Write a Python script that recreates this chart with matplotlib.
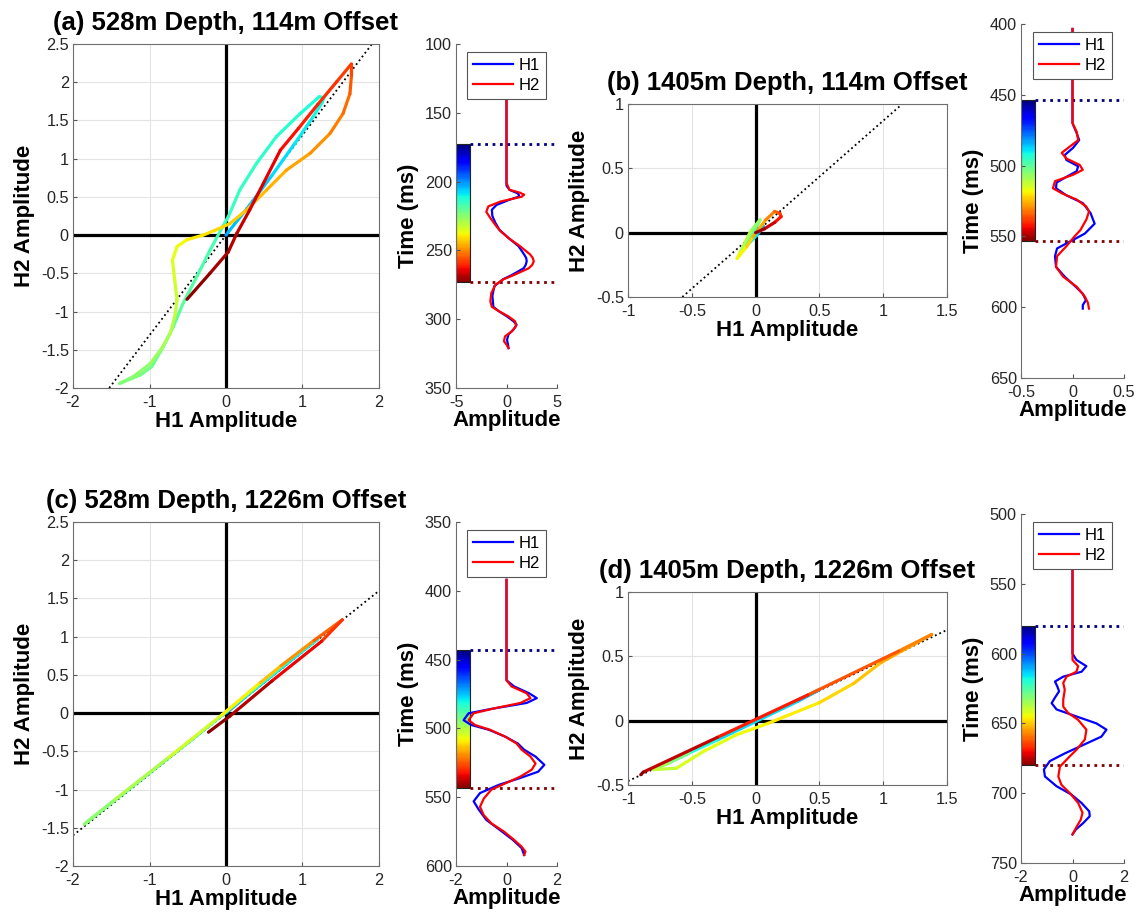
import numpy as np
import matplotlib
matplotlib.use('Agg')
import matplotlib.pyplot as plt
from matplotlib.collections import LineCollection
from matplotlib.patches import Rectangle
from matplotlib.colors import Normalize
from matplotlib.ticker import FuncFormatter

plt.rcParams['font.family'] = ['Liberation Sans', 'DejaVu Sans']

# ---- panel (a): 528m depth, 114m offset ----
a_window = (173, 273)
a_slope = 1.31
a_hodo_t = [173, 200, 203, 205, 206.5, 208, 209.5, 210.5, 211, 211.5,
            212.3, 213, 213.7, 214.4, 215, 215.5, 216.5, 217.5, 218.5, 219.5, 220.5, 221.5, 222.3, 223.3,
            224.5, 226, 227.5, 229, 230.5, 232, 233.5, 235, 236.5, 238, 239.5, 240.5, 241.5,
            243, 244.5, 246, 247.5, 249.5, 251.5, 253.5, 255.5, 257,
            258.5, 260, 261.5, 263, 264.5, 266, 267.5, 268.5, 270, 273]
a_hodo_h1 = [0, 0, 0.03, 0.3, 0.6, 0.9, 1.14, 1.26, 1.28, 1.22,
             0.97, 0.66, 0.40, 0.18, 0.03, -0.06, -0.21, -0.38, -0.56, -0.69, -0.82, -0.97, -1.12, -1.39,
             -1.21, -0.99, -0.84, -0.73, -0.67, -0.64, -0.67, -0.70, -0.64, -0.51, -0.3, -0.15, 0.05,
             0.27, 0.53, 0.79, 1.10, 1.36, 1.53, 1.62, 1.64, 1.64,
             1.45, 1.2, 0.95, 0.71, 0.49, 0.31, 0.14, 0.03, -0.21, -0.51]
a_hodo_h2 = [0, 0, 0.04, 0.38, 0.78, 1.2, 1.55, 1.74, 1.8, 1.81,
             1.59, 1.29, 0.94, 0.59, 0.24, 0.08, -0.2, -0.54, -0.89, -1.2, -1.46, -1.72, -1.83, -1.94,
             -1.85, -1.68, -1.48, -1.29, -1.07, -0.85, -0.59, -0.33, -0.15, -0.06, 0.0, 0.06, 0.15,
             0.33, 0.59, 0.85, 1.07, 1.33, 1.59, 1.85, 2.09, 2.24,
             2.01, 1.71, 1.40, 1.11, 0.68, 0.33, 0.02, -0.22, -0.5, -0.84]
a_h1_t = [137, 203, 206, 208.5, 210, 211, 213, 217, 220.5, 225, 230, 235, 241, 247, 253, 255.5,
          258, 260.5, 263, 268, 271, 276, 283, 291, 294, 298, 301.5, 304, 307.5, 311, 315, 318.5, 321]
a_h1 = [0, 0, 0.3, 1.1, 1.25, 1.2, 0.35, -1.0, -1.45, -1.4, -1.1, -0.7, 0.2, 1.2, 1.75, 1.95,
        2.0, 1.9, 1.7, 0.5, -0.35, -1.2, -1.4, -1.3, -0.8, 0.05, 0.7, 1.0, 0.7, 0.2, 0.05, 0.15, 0.2]
a_h2_t = [137, 201, 206, 208, 209.5, 211, 212.5, 214.5, 218, 222, 226.5, 232.5, 236, 241, 247,
          253, 255.5, 258, 260.5, 263, 268, 271, 275, 281, 287, 291, 294, 298, 301.5, 305, 309,
          312.5, 316, 318.5, 321]
a_h2 = [0, 0, 0.3, 1.3, 1.75, 1.5, 0.6, -0.6, -1.8, -2.0, -1.6, -1.0, -0.6, 0.2, 1.35, 2.35,
        2.6, 2.7, 2.55, 2.2, 0.7, -0.3, -1.1, -1.5, -1.6, -1.45, -0.8, 0.2, 0.85, 0.95, 0.5,
        -0.15, -0.25, 0, 0.2]

# ---- panel (b): 1405m depth, 114m offset ----
b_window = (454, 553)
b_slope = 0.87
b_hodo_t = [454, 470, 477, 482, 487, 492, 496, 501, 504, 508, 512, 516, 520, 524, 528, 532,
            536, 540, 544, 548, 553]
b_hodo_h1 = [0, 0, 0.035, 0.06, 0.01, -0.07, -0.05, 0.02, 0.035, -0.04, -0.12, -0.145, -0.07,
             -0.02, 0.08, 0.15, 0.19, 0.2, 0.15, 0.07, 0.0]
b_hodo_h2 = [0, 0, 0.035, 0.05, -0.02, -0.1, -0.05, 0.07, 0.1, 0.01, -0.15, -0.2, -0.11,
             -0.03, 0.1, 0.165, 0.15, 0.125, 0.08, 0.03, 0.0]
b_h1_t = [403.5, 470, 477, 482, 487.5, 492.5, 496, 500.5, 504, 508, 512, 516, 521, 526.5, 533.5,
          541, 548, 552.5, 558.5, 564, 571.5, 578.5, 585.5, 590.5, 595, 598.5, 601]
b_h1 = [0, 0, 0.04, 0.065, 0.005, -0.075, -0.06, 0.055, 0.04, -0.06, -0.155, -0.16, -0.06, 0.1,
        0.175, 0.215, 0.12, 0.005, -0.15, -0.17, -0.16, -0.075, 0.03, 0.1, 0.13, 0.1, 0.1]
b_h2_t = [403.5, 470, 476, 482, 486.5, 491, 495, 499.5, 503, 506.5, 511, 516, 519.5, 524, 529,
          532.5, 538, 545.5, 550, 557, 564, 571.5, 578.5, 585.5, 592.5, 597, 601]
b_h2 = [0, 0, 0.04, 0.055, -0.025, -0.105, -0.06, 0.07, 0.1, 0.005, -0.17, -0.19, -0.105, 0.04,
        0.135, 0.16, 0.135, 0.077, 0.02, -0.06, -0.15, -0.16, -0.09, 0.04, 0.12, 0.15, 0.16]

# ---- panel (c): 528m depth, 1226m offset ----
c_window = (443, 543)
c_slope = 0.8
c_hodo_t = [443, 466, 470, 474, 478, 482, 485, 489, 493, 497, 501, 506, 511, 516, 521, 526,
            531, 536, 540, 543]
c_hodo_h1 = [0, 0, 0.25, 0.8, 1.2, 0.8, -0.4, -1.4, -1.85, -1.45, -0.75, -0.05, 0.45, 0.72,
             1.15, 1.52, 1.25, 0.6, 0.05, -0.23]
c_hodo_h2 = [0, 0, 0.21, 0.65, 0.97, 0.66, -0.31, -1.1, -1.45, -1.13, -0.58, -0.02, 0.4, 0.62,
             0.95, 1.22, 0.94, 0.42, -0.04, -0.25]
c_h1_t = [392, 465, 469.5, 474.5, 478, 481.5, 485.5, 489, 494, 497.5, 501, 506, 511, 515.5,
          520.5, 526.5, 531.5, 536, 541, 547, 553, 559, 566.5, 574, 581, 587, 592]
c_h1 = [0, 0, 0.3, 0.9, 1.2, 0.8, -0.5, -1.5, -1.7, -1.4, -0.7, -0.05, 0.45, 0.7, 1.15, 1.5,
        1.25, 0.55, -0.3, -1.05, -1.3, -1.1, -0.8, -0.25, 0.25, 0.6, 0.7]
c_h2_t = [392, 465, 469.5, 474.5, 478, 481.5, 485.5, 489, 494, 497.5, 501, 506, 511, 515.5,
          520.5, 525.5, 530, 535, 540, 544.5, 551, 557, 563, 569, 575, 581, 586, 589.5, 592]
c_h2 = [0, 0, 0.2, 0.8, 0.95, 0.55, -0.5, -1.3, -1.5, -1.25, -0.65, -0.05, 0.4, 0.6, 0.95,
        1.15, 1.0, 0.55, -0.05, -0.6, -0.9, -1.05, -0.9, -0.6, -0.1, 0.3, 0.6, 0.75, 0.7]

# ---- panel (d): 1405m depth, 1226m offset ----
d_window = (580, 680)
d_slope = 0.47
d_hodo_t = [580, 600, 604, 609, 613, 616, 620, 624, 627, 632, 636, 640, 642, 643.5, 645, 647,
            649, 651, 655, 659, 665, 671, 677, 680]
d_hodo_h1 = [0, 0, 0.12, 0.5, 0.33, -0.3, -0.65, -0.58, -0.52, -0.68, -0.8, -0.62, -0.41, -0.15,
             0.1, 0.5, 0.77, 0.98, 1.38, 1.12, 0.41, -0.3, -0.88, -0.9]
d_hodo_h2 = [0, 0, 0.06, 0.24, 0.15, -0.15, -0.31, -0.28, -0.25, -0.33, -0.38, -0.37, -0.24,
             -0.11, -0.02, 0.14, 0.29, 0.45, 0.67, 0.54, 0.2, -0.13, -0.4, -0.42]
d_h1_t = [537, 600, 604.5, 609, 613, 616.5, 620, 623.5, 627, 631.5, 635.5, 640, 645, 650, 654.5,
          659.5, 665.5, 671.5, 677, 683, 688, 695, 701, 707, 713, 716.5, 721.5, 726, 729.5]
d_h1 = [0, 0, 0.15, 0.54, 0.35, -0.36, -0.68, -0.59, -0.52, -0.68, -0.81, -0.62, 0.15, 0.93,
        1.32, 1.12, 0.41, -0.3, -0.88, -1.11, -1.07, -0.62, -0.04, 0.35, 0.65, 0.67, 0.41, 0.13, 0]
d_h2_t = [537, 604.5, 609, 613, 616.5, 621, 626, 633, 638, 642.5, 647.5, 654.5, 661.5, 669,
          673.5, 681, 688, 694, 700, 707, 714, 719, 725, 729.5]
d_h2 = [0, 0, 0.22, 0.15, -0.23, -0.36, -0.3, -0.36, -0.36, -0.17, 0.22, 0.54, 0.48, 0.15,
        -0.1, -0.49, -0.55, -0.43, -0.1, 0.22, 0.39, 0.32, 0.13, 0]

W, H = 1139, 914
fig = plt.figure(figsize=(W / 100, H / 100), dpi=100)
fmt = FuncFormatter(lambda v, p: f'{v:g}')
TICK_FS = 11.7
LAB_FS = 16


def add_px(l, t, r, b):
    return fig.add_axes([l / W, 1 - b / H, (r - l) / W, (b - t) / H])


def style(ax):
    ax.tick_params(direction='in', labelsize=TICK_FS, colors='#262626', length=3,
                   color='#555555')
    ax.tick_params(axis='x', pad=5)
    ax.tick_params(axis='y', pad=3)
    ax.xaxis.set_major_formatter(fmt)
    ax.yaxis.set_major_formatter(fmt)
    for s in ax.spines.values():
        s.set_color('#6e6e6e')
        s.set_linewidth(0.8)


def draw_hodo(ax, t, h1, h2, win, slope, xlim, ylim, xticks, yticks, title):
    ax.set_xlim(xlim)
    ax.set_ylim(ylim)
    ax.set_xticks(xticks)
    ax.set_yticks(yticks)
    ax.grid(True, color='#e4e4e4', lw=0.8)
    ax.set_axisbelow(True)
    ax.axhline(0, color='k', lw=2.3, zorder=2)
    ax.axvline(0, color='k', lw=2.3, zorder=2)
    ax.axline((0, 0), slope=slope, color='k', ls=':', lw=1.3, zorder=2)
    pts = np.column_stack([h1, h2])
    segs = np.stack([pts[:-1], pts[1:]], axis=1)
    tm = (np.array(t[:-1]) + np.array(t[1:])) / 2
    lc = LineCollection(segs, cmap='jet', norm=Normalize(*win), lw=2.3, capstyle='round',
                        joinstyle='round', zorder=3)
    lc.set_array(tm)
    ax.add_collection(lc)
    style(ax)
    ax.set_xlabel('H1 Amplitude', fontsize=LAB_FS, fontweight='bold', labelpad=1)
    ax.set_ylabel('H2 Amplitude', fontsize=LAB_FS, fontweight='bold', labelpad=4)
    ax.set_title(title, fontsize=18.5, fontweight='bold', pad=10)


def draw_trace(ax, t1, h1, t2, h2, win, xlim, ylim, xticks, yticks):
    ax.set_xlim(xlim)
    ax.set_ylim(ylim[1], ylim[0])
    ax.set_xticks(xticks)
    ax.set_yticks(yticks)
    x_cb = xlim[0] + 0.135 * (xlim[1] - xlim[0])
    tt = np.linspace(win[0], win[1], 121)
    ax.pcolormesh([xlim[0], x_cb], tt, tt[:-1, None], cmap='jet', norm=Normalize(*win),
                  shading='flat', zorder=1)
    ax.add_patch(Rectangle((xlim[0], win[0]), x_cb - xlim[0], win[1] - win[0], fill=False,
                           ec='#222222', lw=0.8, zorder=2))
    jet = plt.get_cmap('jet')
    ax.hlines(win[0], x_cb, xlim[1], colors=[jet(0.0)], linestyles=':', lw=2, zorder=2)
    ax.hlines(win[1], x_cb, xlim[1], colors=[jet(1.0)], linestyles=':', lw=2, zorder=2)
    ax.plot(h1, t1, color='#0000ff', lw=1.6, label='H1', zorder=3)
    ax.plot(h2, t2, color='#ff0000', lw=1.6, label='H2', zorder=4)
    ax.spines['top'].set_visible(False)
    ax.spines['right'].set_visible(False)
    style(ax)
    ax.set_xlabel('Amplitude', fontsize=LAB_FS, fontweight='bold', labelpad=0)
    ax.set_ylabel('Time (ms)', fontsize=LAB_FS, fontweight='bold', labelpad=4)
    leg = ax.legend(loc='upper center', fontsize=12, handlelength=2.4, handletextpad=0.3,
                    borderpad=0.35, labelspacing=0.3, fancybox=False, framealpha=1)
    leg.get_frame().set_edgecolor('#555555')
    leg.get_frame().set_linewidth(0.8)


ax = add_px(73, 44, 379, 388)
draw_hodo(ax, a_hodo_t, a_hodo_h1, a_hodo_h2, a_window, a_slope, (-2, 2), (-2, 2.5),
          [-2, -1, 0, 1, 2], np.arange(-2, 2.51, 0.5), '(a) 528m Depth, 114m Offset')
ax = add_px(456, 44, 557, 388)
draw_trace(ax, a_h1_t, a_h1, a_h2_t, a_h2, a_window, (-5, 5), (100, 350), [-5, 0, 5],
           [100, 150, 200, 250, 300, 350])

ax = add_px(628, 104, 947, 297)
draw_hodo(ax, b_hodo_t, b_hodo_h1, b_hodo_h2, b_window, b_slope, (-1, 1.5), (-0.5, 1),
          [-1, -0.5, 0, 0.5, 1, 1.5], [-0.5, 0, 0.5, 1], '(b) 1405m Depth, 114m Offset')
ax = add_px(1021, 24, 1124, 378)
draw_trace(ax, b_h1_t, b_h1, b_h2_t, b_h2, b_window, (-0.5, 0.5), (400, 650), [-0.5, 0, 0.5],
           [400, 450, 500, 550, 600, 650])

ax = add_px(73, 522, 379, 866)
draw_hodo(ax, c_hodo_t, c_hodo_h1, c_hodo_h2, c_window, c_slope, (-2, 2), (-2, 2.5),
          [-2, -1, 0, 1, 2], np.arange(-2, 2.51, 0.5), '(c) 528m Depth, 1226m Offset')
ax = add_px(456, 522, 557, 866)
draw_trace(ax, c_h1_t, c_h1, c_h2_t, c_h2, c_window, (-2, 2), (350, 600), [-2, 0, 2],
           [350, 400, 450, 500, 550, 600])

ax = add_px(628, 592, 947, 785)
draw_hodo(ax, d_hodo_t, d_hodo_h1, d_hodo_h2, d_window, d_slope, (-1, 1.5), (-0.5, 1),
          [-1, -0.5, 0, 0.5, 1, 1.5], [-0.5, 0, 0.5, 1], '(d) 1405m Depth, 1226m Offset')
ax = add_px(1021, 514, 1124, 863)
draw_trace(ax, d_h1_t, d_h1, d_h2_t, d_h2, d_window, (-2, 2), (500, 750), [-2, 0, 2],
           [500, 550, 600, 650, 700, 750])

fig.savefig('out.png', dpi=100, facecolor='white')
